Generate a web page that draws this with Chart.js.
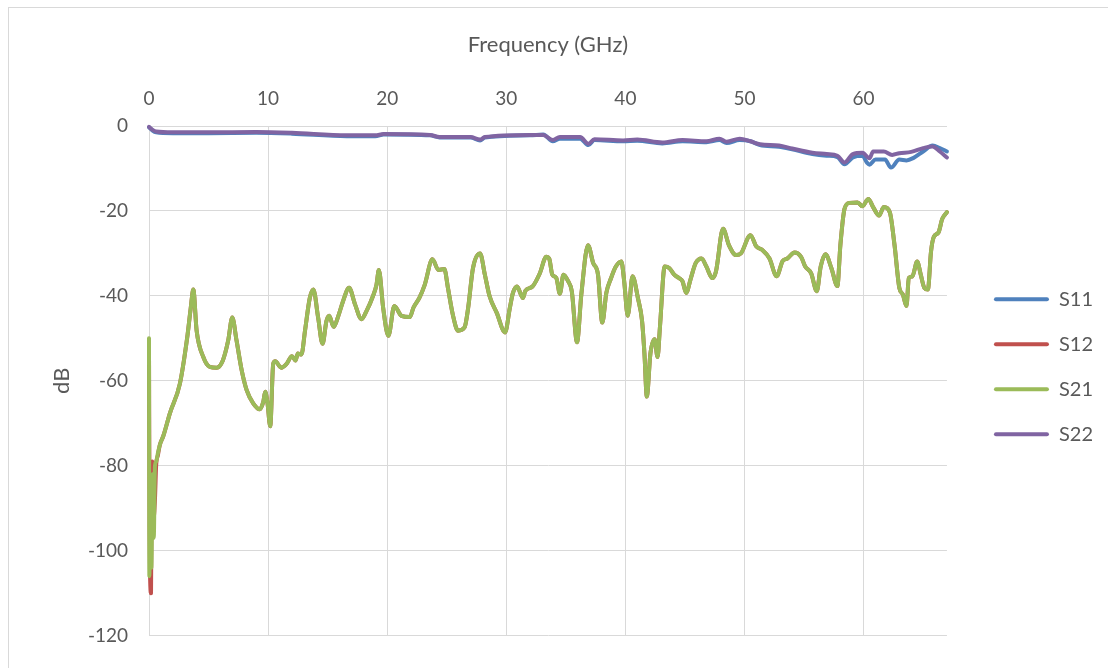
<!DOCTYPE html>
<html>
<head>
<meta charset="utf-8">
<script src="https://cdn.jsdelivr.net/npm/chart.js@4.4.1/dist/chart.umd.min.js"></script>
<style>
  html, body { margin: 0; padding: 0; background: #fff; overflow: hidden; }
  #frame { position: absolute; left: 8px; top: 7px; width: 1200px; height: 800px; border: 1px solid #d9d9d9; }
  #wrap { position: absolute; left: 0; top: 0; width: 1108px; height: 668px; }
</style>
</head>
<body>
<div id="frame"></div>
<div id="wrap"><canvas id="chart" width="1108" height="668"></canvas></div>
<script>
// S-parameters vs frequency (GHz), values in dB
const s21Freq = [0, 0.03, 0.1, 0.2, 0.3, 0.4, 0.5, 0.6, 0.75, 0.92, 1.2, 1.76, 2.6, 3.2, 3.5, 3.72, 4.0, 4.56, 5.1, 5.68,
  6.2, 6.65, 6.99, 7.35, 7.78, 8.2, 8.75, 9.3, 9.6, 9.76, 9.95, 10.18, 10.43, 10.6, 11.1, 11.55, 12.0, 12.3, 12.5, 12.8,
  13.1, 13.5, 13.8, 14.2, 14.57, 14.9, 15.13, 15.5, 15.9, 16.3, 16.8, 17.3, 17.84, 18.26, 18.8, 19.1, 19.3, 19.66, 20.1, 20.6,
  21.2, 21.9, 22.2, 22.7, 23.15, 23.8, 24.3, 24.8, 25.1, 25.5, 25.95, 26.5, 26.8, 27.2, 27.8, 28.2, 28.6, 29.2, 29.9, 30.3,
  30.56, 30.9, 31.4, 31.6, 32.2, 32.8, 33.36, 33.6, 33.86, 34.2, 34.5, 34.8, 35.2, 35.5, 35.94, 36.3, 36.86, 37.3, 37.7, 38.06,
  38.4, 38.8, 39.2, 39.66, 39.9, 40.2, 40.6, 41.05, 41.4, 41.6, 41.8, 42.1, 42.45, 42.7, 42.9, 43.3, 43.7, 44.1, 44.5, 44.8,
  45.1, 45.5, 45.9, 46.4, 46.8, 47.3, 47.6, 48.2, 48.7, 49.3, 49.7, 50.5, 51.0, 51.5, 52.1, 52.7, 53.2, 53.6, 54.2, 54.75,
  55.1, 55.6, 56.07, 56.4, 56.8, 57.3, 57.8, 58.05, 58.4, 58.8, 59.5, 59.9, 60.4, 60.8, 61.3, 61.7, 62.2, 62.6, 63.0, 63.3,
  63.6, 63.8, 64.1, 64.5, 64.8, 65.1, 65.4, 65.66, 65.9, 66.3, 66.6, 67];
const s21Db = [-50, -106, -90, -104, -82, -97, -80, -79, -77, -75, -73, -67.6, -60.6, -50, -43, -38.5, -48.2, -54.4, -56.7, -56.9,
  -55.2, -50.5, -45.1, -50.5, -57.5, -62.2, -65.3, -66.7, -64.9, -62.6, -65.3, -70.7, -56, -55.4, -56.9, -56, -54.2, -55.2, -53.6, -53.8,
  -48.2, -40.5, -38.5, -45.1, -51.3, -45.9, -44.7, -47.3, -44.7, -41.2, -38.1, -42, -45.5, -43.6, -40.1, -37.4, -33.9, -42.8, -49.4, -42.4,
  -44.7, -45, -42.8, -40.5, -37.4, -31.4, -33.9, -33.7, -38.1, -44.3, -48.2, -47.4, -42.8, -33.5, -30, -35, -40.1, -44, -48.6, -42.8,
  -39.3, -37.8, -40.5, -38.8, -37.8, -34.8, -30.8, -31.2, -35, -35.8, -39.5, -35, -36.6, -38.9, -50.9, -39.7, -28.1, -32.3, -35, -46.3,
  -39.3, -35.8, -33.1, -31.9, -36.6, -44.7, -35.4, -40.5, -45.9, -53.6, -63.7, -53.6, -50.2, -54.4, -47.4, -33.1, -33.5, -35, -35.8, -36.6,
  -39.3, -35.8, -32.3, -31.2, -33.1, -35.8, -34.3, -24.2, -28.1, -30.4, -30, -25.7, -28.4, -29.2, -31.2, -35.4, -31.8, -31.2, -29.8, -30.8,
  -33.1, -34.7, -38.9, -33.1, -30.2, -33.5, -37.7, -28.1, -19.5, -18.1, -18, -18.9, -17.2, -19.1, -21.1, -19.1, -20.3, -28.1, -38.1, -39.7,
  -42.4, -35.8, -35.4, -31.9, -35, -38.1, -38.5, -29.6, -26.1, -25, -21.9, -20.3];

// S12 differs from S21 only below ~1 GHz; above that the two traces overlap
const s12LowFreq = [0, 0.05, 0.17, 0.22, 0.28, 0.4, 0.5, 0.6, 0.75];
const s12LowDb = [-52, -96, -110, -86, -79, -92, -88, -80, -77.5];
const overlapStart = s21Freq.indexOf(0.92);
const s12Freq = s12LowFreq.concat(s21Freq.slice(overlapStart));
const s12Db = s12LowDb.concat(s21Db.slice(overlapStart));

const s22Freq = [0, 0.3, 0.6, 2, 5, 9, 12, 16.6, 19, 19.7, 23.6, 24.4, 27, 27.8, 28.2, 32, 33.1, 33.9, 34.5, 36.2,
  36.9, 37.4, 39.8, 41, 43.1, 44.8, 46.8, 47.9, 48.5, 49.6, 50.5, 51.3, 52.9, 54, 55.7, 56.9, 57.8, 58.4, 59.1, 59.9,
  60.5, 60.8, 61.7, 62.4, 63, 64, 65, 65.8, 66.4, 67];
const s22Db = [-0.2, -0.9, -1.3, -1.5, -1.5, -1.4, -1.6, -2.2, -2.2, -1.9, -2.1, -2.6, -2.6, -3.2, -2.6, -2.1, -2.1, -3.3, -2.6, -2.6,
  -4.2, -3.1, -3.4, -3.2, -3.9, -3.3, -3.6, -3.0, -3.7, -3.0, -3.6, -4.3, -4.6, -5.3, -6.3, -6.6, -7.0, -8.6, -6.6, -6.3,
  -7.6, -6.0, -6.0, -6.8, -6.4, -6.1, -5.2, -4.8, -6.0, -7.4];

const s11Freq = [0, 0.3, 0.6, 2, 5, 9, 12, 16.6, 19, 19.7, 23.6, 24.4, 27, 27.8, 28.2, 32, 33.1, 33.9, 34.5, 36.2,
  36.9, 37.4, 39.8, 41, 43.1, 44.8, 46.8, 47.9, 48.5, 49.6, 50.5, 51.3, 52.9, 54, 55.7, 56.9, 57.8, 58.4, 59.1, 59.9,
  60.3, 60.5, 61, 61.8, 62.3, 63, 63.6, 64.2, 65, 65.8, 66.4, 67];
const s11Db = [-0.3, -1.1, -1.5, -1.7, -1.7, -1.6, -1.8, -2.4, -2.4, -2.0, -2.2, -2.7, -2.7, -3.4, -2.7, -2.2, -2.0, -3.6, -3.0, -3.0,
  -4.5, -3.3, -3.6, -3.5, -4.1, -3.6, -3.8, -3.3, -4.0, -3.3, -3.6, -4.5, -4.9, -5.5, -6.6, -7.0, -7.3, -9.0, -7.4, -7.0,
  -8.7, -9.1, -7.9, -7.9, -9.8, -7.9, -8.1, -7.5, -6.0, -4.6, -5.2, -6.0];

const xTicks = [0, 10, 20, 30, 40, 50, 60];
const yMin = -120, yMax = 0, yStep = 20;

const toPoints = (xs, ys) => xs.map((x, i) => ({ x: x, y: ys[i] }));
const textColor = '#595959';
const gridColor = '#d9d9d9';
const fontFamily = 'Lato, "Liberation Sans", sans-serif';

function series(label, xs, ys, color, order) {
  return {
    label: label,
    data: toPoints(xs, ys),
    borderColor: color,
    backgroundColor: color,
    borderWidth: 4,
    pointRadius: 0,
    cubicInterpolationMode: 'monotone',
    borderJoinStyle: 'round',
    borderCapStyle: 'round',
    clip: 4,
    order: order
  };
}

// moves the legend block to where the original sits
const legendNudge = {
  id: 'legendNudge',
  afterLayout(chart) {
    const lg = chart.legend;
    if (!lg) return;
    const dx = 22, dy = -14;
    lg.left += dx; lg.right += dx;
    lg.top += dy; lg.bottom += dy;
  }
};

new Chart(document.getElementById('chart'), {
  type: 'line',
  data: {
    datasets: [
      series('S11', s11Freq, s11Db, '#4f81bd', 3),
      series('S12', s12Freq, s12Db, '#c0504d', 2),
      series('S21', s21Freq, s21Db, '#9bbb59', 1),
      series('S22', s22Freq, s22Db, '#8064a2', 0)
    ]
  },
  options: {
    responsive: false,
    animation: false,
    layout: { padding: { left: 0, top: 0, right: 27, bottom: 26 } },
    plugins: {
      tooltip: { enabled: false },
      legend: {
        position: 'right',
        fullSize: false,
        labels: {
          color: textColor,
          font: { family: fontFamily, size: 20 },
          boxWidth: 55,
          boxHeight: 4,
          padding: 25,
          useBorderRadius: true,
          borderRadius: 2,
          sort: (a, b) => a.datasetIndex - b.datasetIndex,
          generateLabels: (chart) => {
            const items = Chart.defaults.plugins.legend.labels.generateLabels(chart);
            items.forEach(it => { it.lineWidth = 0; });
            return items;
          }
        }
      }
    },
    scales: {
      x: {
        type: 'linear',
        position: 'top',
        min: 0,
        max: 67,
        afterBuildTicks: (scale) => { scale.ticks = xTicks.map(v => ({ value: v })); },
        afterFit: (scale) => { scale.height = 126; },
        ticks: { color: textColor, font: { family: fontFamily, size: 19 }, padding: 16, maxRotation: 0 },
        grid: { color: gridColor, lineWidth: 1, drawTicks: false },
        border: { color: gridColor },
        title: {
          display: true,
          text: 'Frequency (GHz)',
          color: textColor,
          font: { family: fontFamily, size: 22 },
          padding: { top: 32, bottom: 0 }
        }
      },
      y: {
        min: yMin,
        max: yMax,
        ticks: { stepSize: yStep, color: textColor, font: { family: fontFamily, size: 19 }, padding: 21 },
        afterFit: (scale) => { scale.width = 149; },
        grid: { color: gridColor, lineWidth: 1, drawTicks: false },
        border: { color: gridColor },
        title: {
          display: true,
          text: 'dB',
          color: textColor,
          font: { family: fontFamily, size: 22 },
          padding: { top: 49, bottom: 0 }
        }
      }
    }
  },
  plugins: [legendNudge]
});
</script>
</body>
</html>
